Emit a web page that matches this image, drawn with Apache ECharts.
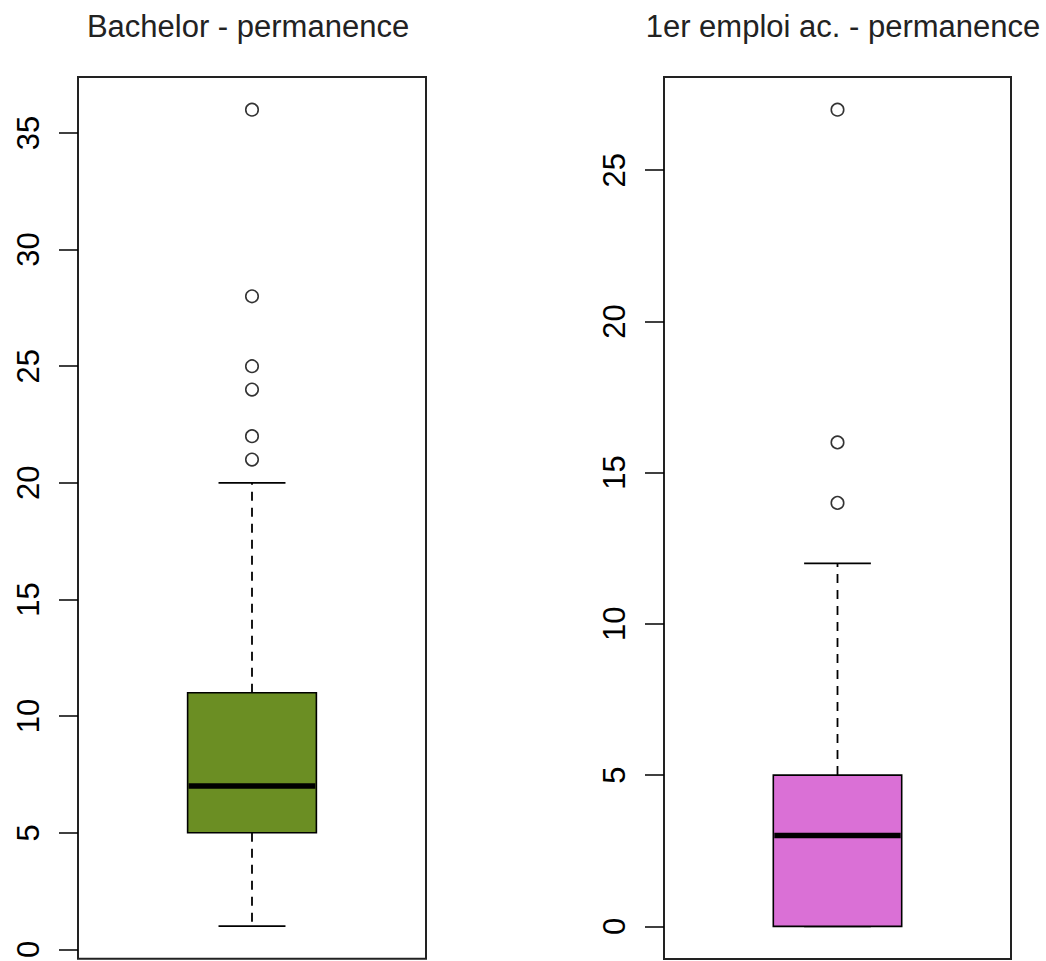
<!DOCTYPE html>
<html>
<head>
<meta charset="utf-8">
<script src="https://cdn.jsdelivr.net/npm/echarts@6/dist/echarts.min.js"></script>
<style>
html,body{margin:0;padding:0;background:#fff;}
#chart{width:1046px;height:961px;}
</style>
</head>
<body>
<div id="chart"></div>
<script>
// ---- data ----
const titles = ['Bachelor - permanence', '1er emploi ac. - permanence'];
const categories = ['Bachelor', '1er emploi ac.'];
// [lower whisker, Q1, median, Q3, upper whisker]
const bachelorStats = [1, 5, 7, 11, 20];
const emploiStats = [0, 0, 3, 5, 12];
const bachelorOutliers = [21, 22, 24, 25, 28, 36];
const emploiOutliers = [14, 16, 27];
const bachelorTicks = [0, 5, 10, 15, 20, 25, 30, 35];
const emploiTicks = [0, 5, 10, 15, 20, 25];
const boxColors = ['#6B8E23', '#DA70D6'];

const FONT = "'Liberation Sans', Arial, sans-serif";

function renderBox(params, api) {
  const lo = api.value(1), q1 = api.value(2), med = api.value(3), q3 = api.value(4), hi = api.value(5);
  const band = api.size([1, 0])[0];
  const hw = band * 0.37 / 2;
  const cw = hw * 0.52;
  const pLo = api.coord([0, lo]), pQ1 = api.coord([0, q1]), pMed = api.coord([0, med]),
        pQ3 = api.coord([0, q3]), pHi = api.coord([0, hi]);
  const cx = pMed[0];
  const color = boxColors[params.seriesIndex === 0 ? 0 : 1];
  const dash = {stroke: '#000', lineWidth: 1.8, lineDash: [9, 7]};
  const solid = {stroke: '#000', lineWidth: 1.8};
  return {
    type: 'group',
    children: [
      {type: 'line', shape: {x1: cx, y1: pQ3[1], x2: cx, y2: pHi[1]}, style: dash},
      {type: 'line', shape: {x1: cx, y1: pQ1[1], x2: cx, y2: pLo[1]}, style: dash},
      {type: 'line', shape: {x1: cx - cw, y1: pHi[1], x2: cx + cw, y2: pHi[1]}, style: solid},
      {type: 'line', shape: {x1: cx - cw, y1: pLo[1], x2: cx + cw, y2: pLo[1]}, style: solid},
      {type: 'rect', shape: {x: cx - hw, y: pQ3[1], width: 2 * hw, height: pQ1[1] - pQ3[1]},
        style: {fill: color, stroke: '#000', lineWidth: 1.6}},
      {type: 'line', shape: {x1: cx - hw + 1, y1: pMed[1], x2: cx + hw - 1, y2: pMed[1]},
        style: {stroke: '#000', lineWidth: 5.5}}
    ]
  };
}

function yAxisCfg(gridIndex, min, max, ticks) {
  return {
    type: 'value', gridIndex: gridIndex, min: min, max: max,
    splitLine: {show: false},
    axisLine: {show: false},
    axisTick: {show: true, length: 19, customValues: ticks, lineStyle: {color: '#000', width: 1.5}},
    axisLabel: {show: true, customValues: ticks, rotate: 90, margin: 34,
      fontSize: 31, fontFamily: FONT, color: '#000'}
  };
}

const chart = echarts.init(document.getElementById('chart'), null, {renderer: 'svg'});
chart.setOption({
  backgroundColor: '#fff',
  animation: false,
  title: [
    {text: titles[0], left: 248, top: 11, textAlign: 'center', padding: 0,
      textStyle: {fontSize: 31, fontWeight: 'normal', fontFamily: FONT, color: '#222'}},
    {text: titles[1], left: 843, top: 11, textAlign: 'center', padding: 0,
      textStyle: {fontSize: 31, fontWeight: 'normal', fontFamily: FONT, color: '#222'}}
  ],
  grid: [
    {left: 78, right: 620, top: 77, bottom: 2, show: true, borderColor: '#222', borderWidth: 2, containLabel: false},
    {left: 664, right: 35, top: 77, bottom: 2, show: true, borderColor: '#222', borderWidth: 2, containLabel: false}
  ],
  xAxis: [
    {type: 'category', gridIndex: 0, data: [categories[0]], show: false},
    {type: 'category', gridIndex: 1, data: [categories[1]], show: false}
  ],
  yAxis: [
    yAxisCfg(0, -0.4, 37.4, bachelorTicks),
    yAxisCfg(1, -1.08, 28.08, emploiTicks)
  ],
  series: [
    {type: 'custom', xAxisIndex: 0, yAxisIndex: 0, renderItem: renderBox,
      encode: {x: 0, y: [1, 2, 3, 4, 5]},
      data: [[0].concat(bachelorStats)]},
    {type: 'custom', xAxisIndex: 1, yAxisIndex: 1, renderItem: renderBox,
      encode: {x: 0, y: [1, 2, 3, 4, 5]},
      data: [[0].concat(emploiStats)]},
    {type: 'scatter', xAxisIndex: 0, yAxisIndex: 0, symbol: 'circle', symbolSize: 12.5,
      itemStyle: {color: '#fff', borderColor: '#000', borderWidth: 1.6},
      data: bachelorOutliers.map(v => [0, v])},
    {type: 'scatter', xAxisIndex: 1, yAxisIndex: 1, symbol: 'circle', symbolSize: 12.5,
      itemStyle: {color: '#fff', borderColor: '#000', borderWidth: 1.6},
      data: emploiOutliers.map(v => [0, v])}
  ]
});
</script>
</body>
</html>
